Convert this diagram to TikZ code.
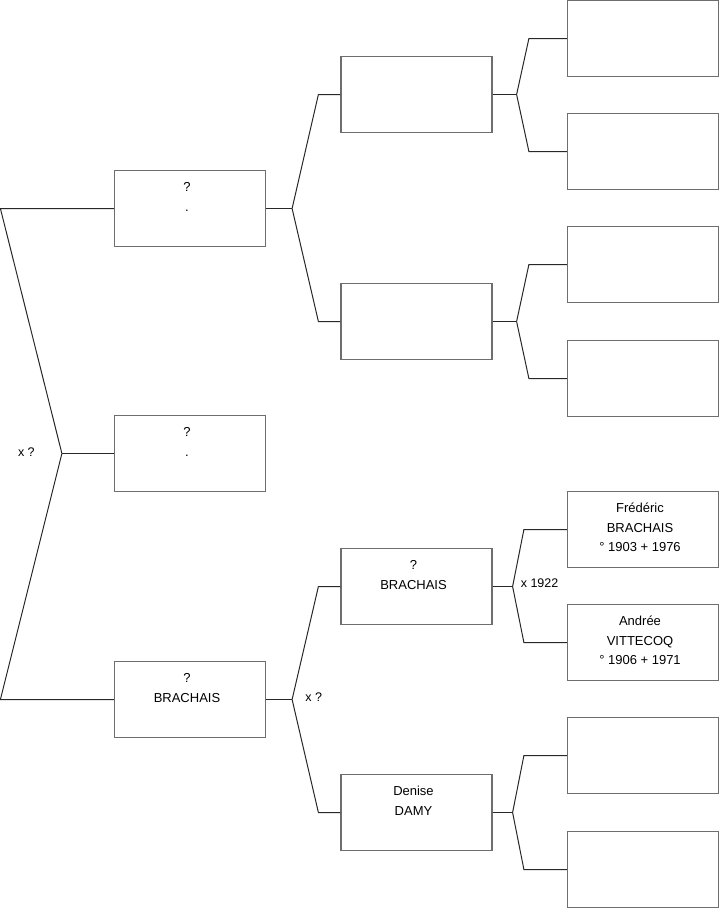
\documentclass[tikz,border=0pt]{standalone}
\usepackage{fontspec}
\setmainfont{Liberation Sans}
\usepackage{xcolor}
\usetikzlibrary{positioning,calc}

\definecolor{boxGray}{RGB}{110,110,110}
\definecolor{linkGray}{RGB}{40,40,40}

% top-aligned text inside a family box
\newcommand{\famtext}[1]{\parbox[c][76pt][t]{151pt}{\centering\rightskip=6pt plus 1fil\rule{0pt}{21pt}#1}}

\begin{document}
\begin{tikzpicture}[
    x=1pt, y=-1pt,
    font=\fontsize{13}{19.5}\selectfont,
    personBox/.style={
        rectangle, draw=boxGray, line width=1.2pt, fill=white,
        minimum width=151pt, minimum height=76pt, inner sep=0pt
    },
    linkLine/.style={
        line width=1pt, draw=linkGray
    },
    unionLabel/.style={
        inner sep=0pt, font=\fontsize{12.5}{14}\selectfont
    }
]
\useasboundingbox (0,0) rectangle (719,908);

% Generation 1: couple and child
\node[personBox] (parentA) at (190, 208.5) {\famtext{?\\.}};
\node[personBox] (childB)  at (190, 453.5) {\famtext{?\\.}};
\node[personBox] (parentC) at (190, 699.5) {\famtext{?\\BRACHAIS}};

% Generation 2
\node[personBox] (gpA1) at (416.5, 94.5) {};
\node[personBox] (gpA2) at (416.5, 321.5) {};
\node[personBox] (gpC1) at (416.5, 586.5) {\famtext{?\\BRACHAIS}};
\node[personBox] (gpC2) at (416.5, 812.5) {\famtext{Denise\\DAMY}};

% Generation 3
\node[personBox] (ggp1) at (643, 38.5) {};
\node[personBox] (ggp2) at (643, 151.5) {};
\node[personBox] (ggp3) at (643, 264.5) {};
\node[personBox] (ggp4) at (643, 378.5) {};
\node[personBox] (ggp5) at (643, 529.5) {\famtext{Frédéric\\BRACHAIS\\° 1903 + 1976}};
\node[personBox] (ggp6) at (643, 642.5) {\famtext{Andrée\\VITTECOQ\\° 1906 + 1971}};
\node[personBox] (ggp7) at (643, 755.5) {};
\node[personBox] (ggp8) at (643, 869.5) {};

% Root fork
\coordinate (joinRoot) at ([xshift=-52pt]childB.west);
\coordinate (kneeA) at ([xshift=-113.5pt]parentA.west);
\coordinate (kneeC) at ([xshift=-113.5pt]parentC.west);
\draw[linkLine] (parentA.west) -- (kneeA) -- (joinRoot) -- (kneeC) -- (parentC.west);
\draw[linkLine] (joinRoot) -- (childB.west);
\node[unionLabel, anchor=east] (unionRoot) at ([xshift=-27pt, yshift=1pt]joinRoot) {x ?};

% Forks to generation 2
\coordinate (joinA) at ([xshift=26pt]parentA.east);
\coordinate (kneeA1) at ([xshift=-22pt]gpA1.west);
\coordinate (kneeA2) at ([xshift=-22pt]gpA2.west);
\draw[linkLine] (parentA.east) -- (joinA);
\draw[linkLine] (gpA1.west) -- (kneeA1) -- (joinA) -- (kneeA2) -- (gpA2.west);

\coordinate (joinC) at ([xshift=26pt]parentC.east);
\coordinate (kneeC1) at ([xshift=-22pt]gpC1.west);
\coordinate (kneeC2) at ([xshift=-22pt]gpC2.west);
\draw[linkLine] (parentC.east) -- (joinC);
\draw[linkLine] (gpC1.west) -- (kneeC1) -- (joinC) -- (kneeC2) -- (gpC2.west);
\node[unionLabel, anchor=west] (unionC) at ([xshift=13pt, yshift=2pt]joinC) {x ?};

% Forks to generation 3
\coordinate (joinA1) at ([xshift=24pt]gpA1.east);
\coordinate (knee1) at ([xshift=-38pt]ggp1.west);
\coordinate (knee2) at ([xshift=-38pt]ggp2.west);
\draw[linkLine] (gpA1.east) -- (joinA1);
\draw[linkLine] (ggp1.west) -- (knee1) -- (joinA1) -- (knee2) -- (ggp2.west);

\coordinate (joinA2) at ([xshift=24pt]gpA2.east);
\coordinate (knee3) at ([xshift=-38pt]ggp3.west);
\coordinate (knee4) at ([xshift=-38pt]ggp4.west);
\draw[linkLine] (gpA2.east) -- (joinA2);
\draw[linkLine] (ggp3.west) -- (knee3) -- (joinA2) -- (knee4) -- (ggp4.west);

\coordinate (joinC1) at ([xshift=20pt]gpC1.east);
\coordinate (knee5) at ([xshift=-43pt]ggp5.west);
\coordinate (knee6) at ([xshift=-43pt]ggp6.west);
\draw[linkLine] (gpC1.east) -- (joinC1);
\draw[linkLine] (ggp5.west) -- (knee5) -- (joinC1) -- (knee6) -- (ggp6.west);
\node[unionLabel, anchor=west] (unionC1) at ([xshift=8pt, yshift=3.5pt]joinC1) {x 1922};

\coordinate (joinC2) at ([xshift=20pt]gpC2.east);
\coordinate (knee7) at ([xshift=-43pt]ggp7.west);
\coordinate (knee8) at ([xshift=-43pt]ggp8.west);
\draw[linkLine] (gpC2.east) -- (joinC2);
\draw[linkLine] (ggp7.west) -- (knee7) -- (joinC2) -- (knee8) -- (ggp8.west);

\end{tikzpicture}
\end{document}
